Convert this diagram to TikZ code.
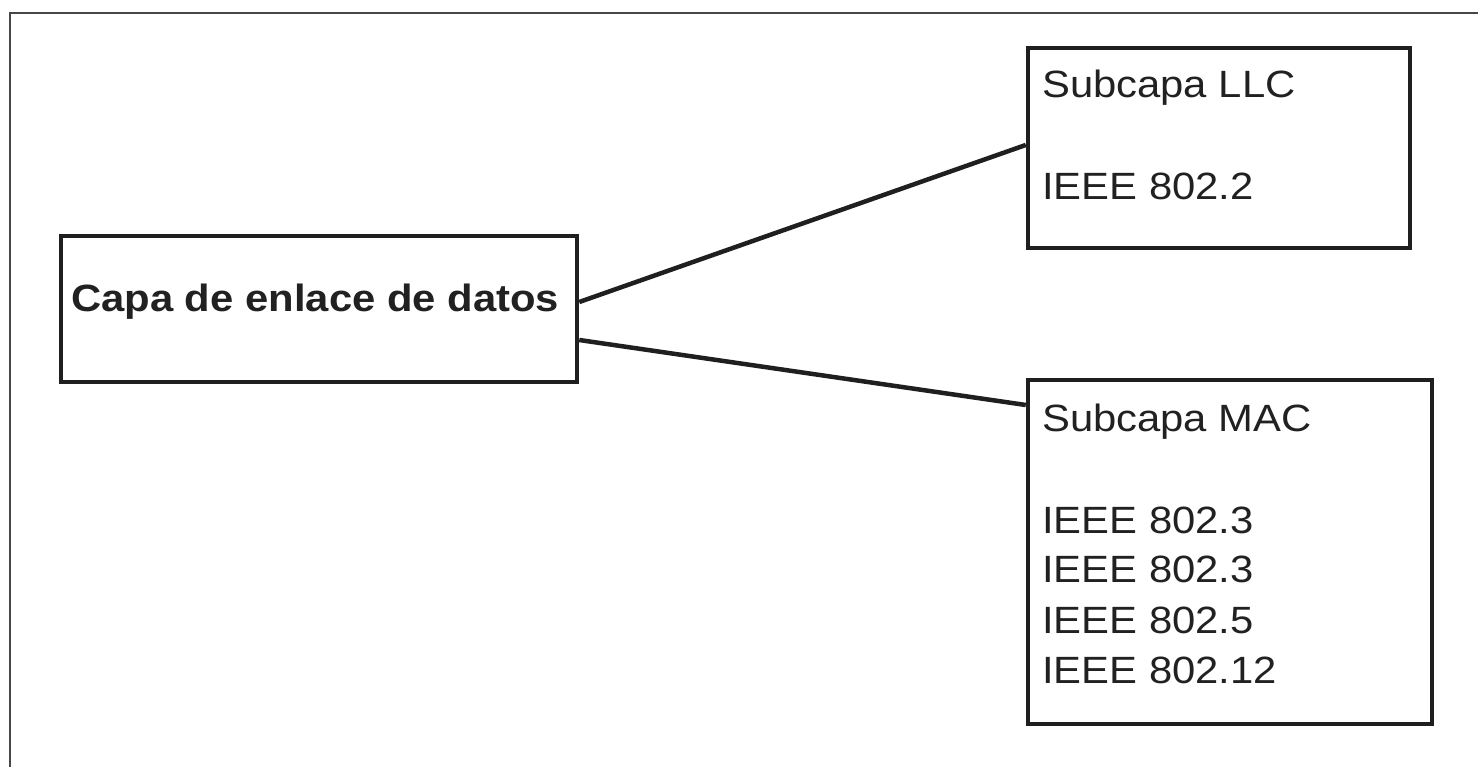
\documentclass[tikz,border=0pt]{standalone}
\usepackage{fontspec}
\setmainfont{Liberation Sans}[FakeStretch=1.10]
\begin{document}
\begin{tikzpicture}[x=1pt,y=1pt,
  box/.style={draw=black!88, line width=4.5pt, inner sep=0pt, fill=none},
  link/.style={draw=black!88, line width=4.5pt},
  lbl/.style={anchor=base west, inner sep=0pt, text=black!87, font=\fontsize{38}{50}\selectfont},
  frameline/.style={draw=black!72, line width=2pt}]
\useasboundingbox (0,0) rectangle (1478,766);
\coordinate (fBL) at (10,-3);
\coordinate (fTL) at (10,753);
\coordinate (fTR) at (1481,753);
\draw[frameline] (fBL) -- (fTL) -- (fTR);

\node[box, minimum width=516pt, minimum height=146pt] (capa) at (319,457) {};
\node[box, minimum width=382pt, minimum height=200pt] (llc) at (1219,618) {};
\node[box, minimum width=404pt, minimum height=344pt] (mac) at (1230,214) {};

\node[lbl, font=\fontsize{38}{50}\selectfont\bfseries] (capatxt) at (71,454.3) {Capa de enlace de datos};
\node[lbl] (llc1) at (1042,668) {Subcapa LLC};
\node[lbl] (llc2) at (1042,566) {IEEE 802.2};
\node[lbl] (mac0) at (1042,334) {Subcapa MAC};
\node[lbl] (mac1) at (1042,232) {IEEE 802.3};
\node[lbl] (mac2) at (1042,183) {IEEE 802.3};
\node[lbl] (mac3) at (1042,132) {IEEE 802.5};
\node[lbl] (mac4) at (1042,82) {IEEE 802.12};

\draw[link] ([yshift=7pt]capa.east) -- ([yshift=3pt]llc.west);
\draw[link] ([yshift=-31pt]capa.east) -- ([yshift=147pt]mac.west);
\end{tikzpicture}
\end{document}
